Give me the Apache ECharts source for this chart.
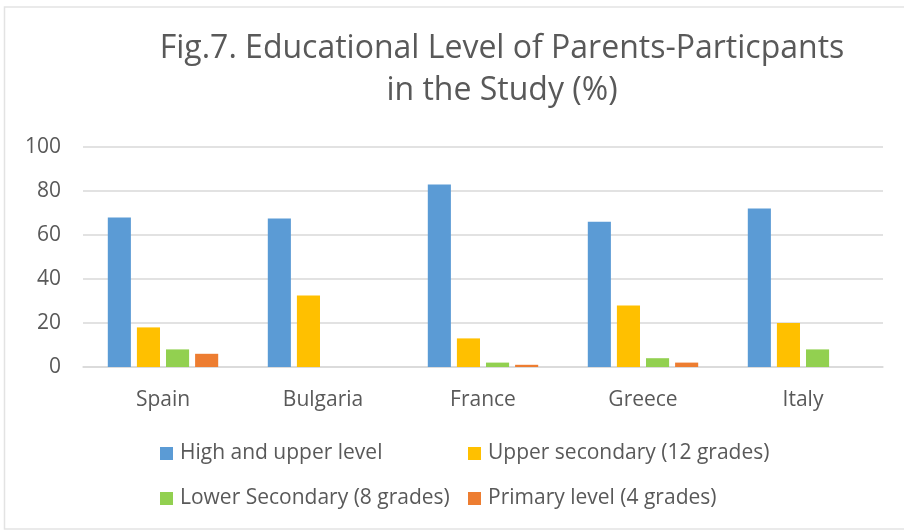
<!DOCTYPE html>
<html>
<head>
<meta charset="utf-8">
<script src="https://cdn.jsdelivr.net/npm/echarts@6/dist/echarts.min.js"></script>
<style>
html,body{margin:0;padding:0;background:#fff;}
#c{width:904px;height:531px;}
</style>
</head>
<body>
<div id="c"></div>
<script>
const categories = ['Spain', 'Bulgaria', 'France', 'Greece', 'Italy'];
const highUpper = [68, 67.5, 83, 66, 72];
const upperSecondary = [18, 32.5, 13, 28, 20];
const lowerSecondary = [8, 0, 2, 4, 8];
const primaryLevel = [6, 0, 1, 2, 0];
const seriesNames = ['High and upper level', 'Upper secondary (12 grades)', 'Lower Secondary (8 grades)', 'Primary level (4 grades)'];
const colors = ['#5B9BD5', '#FFC000', '#92D050', '#ED7D31'];

const font = 'Open Sans';
const txt = '#595959';
const chart = echarts.init(document.getElementById('c'));
const mk = (name, data, color) => ({
  name, type: 'bar', data, itemStyle: { color },
  barGap: '26%', barCategoryGap: '31%'
});
const legendBase = {
  orient: 'vertical', icon: 'rect', itemWidth: 13, itemHeight: 13, padding: 0,
  itemGap: 24, textStyle: { fontFamily: font, fontSize: 21, color: txt, padding: [0,0,0,2] },
  top: 443
};
chart.setOption({
  animation: false,
  backgroundColor: '#fff',
  color: colors,
  title: {
    text: 'Fig.7. Educational Level of Parents-Particpants\nin the Study (%)',
    left: 502, top: 28, padding: 0, textAlign: 'center',
    textStyle: { fontFamily: font, fontSize: 32, fontWeight: 'normal', color: txt, lineHeight: 42 }
  },
  graphic: [{
    type: 'polyline', silent: true,
    shape: { points: [[904, 7], [4.5, 7], [4.5, 529], [904, 529]] },
    style: { stroke: '#e3e3e3', lineWidth: 1.5, fill: null }
  }],
  legend: [
    Object.assign({}, legendBase, { left: 160, data: [seriesNames[0], seriesNames[2]] }),
    Object.assign({}, legendBase, { left: 468, data: [seriesNames[1], seriesNames[3]] })
  ],
  grid: { left: 83, right: 21, top: 147, bottom: 164, containLabel: false },
  xAxis: {
    type: 'category', data: categories,
    axisLine: { lineStyle: { color: '#d9d9d9', width: 1.5 } },
    axisTick: { show: false },
    axisLabel: { fontFamily: font, fontSize: 21, color: txt, margin: 23 }
  },
  yAxis: {
    type: 'value', min: 0, max: 100, interval: 20,
    axisLine: { show: false }, axisTick: { show: false },
    splitLine: { lineStyle: { color: '#d9d9d9', width: 1.5 } },
    axisLabel: { fontFamily: font, fontSize: 21, color: txt, margin: 22 }
  },
  series: [
    mk(seriesNames[0], highUpper, colors[0]),
    mk(seriesNames[1], upperSecondary, colors[1]),
    mk(seriesNames[2], lowerSecondary, colors[2]),
    mk(seriesNames[3], primaryLevel, colors[3])
  ]
});
</script>
</body>
</html>
